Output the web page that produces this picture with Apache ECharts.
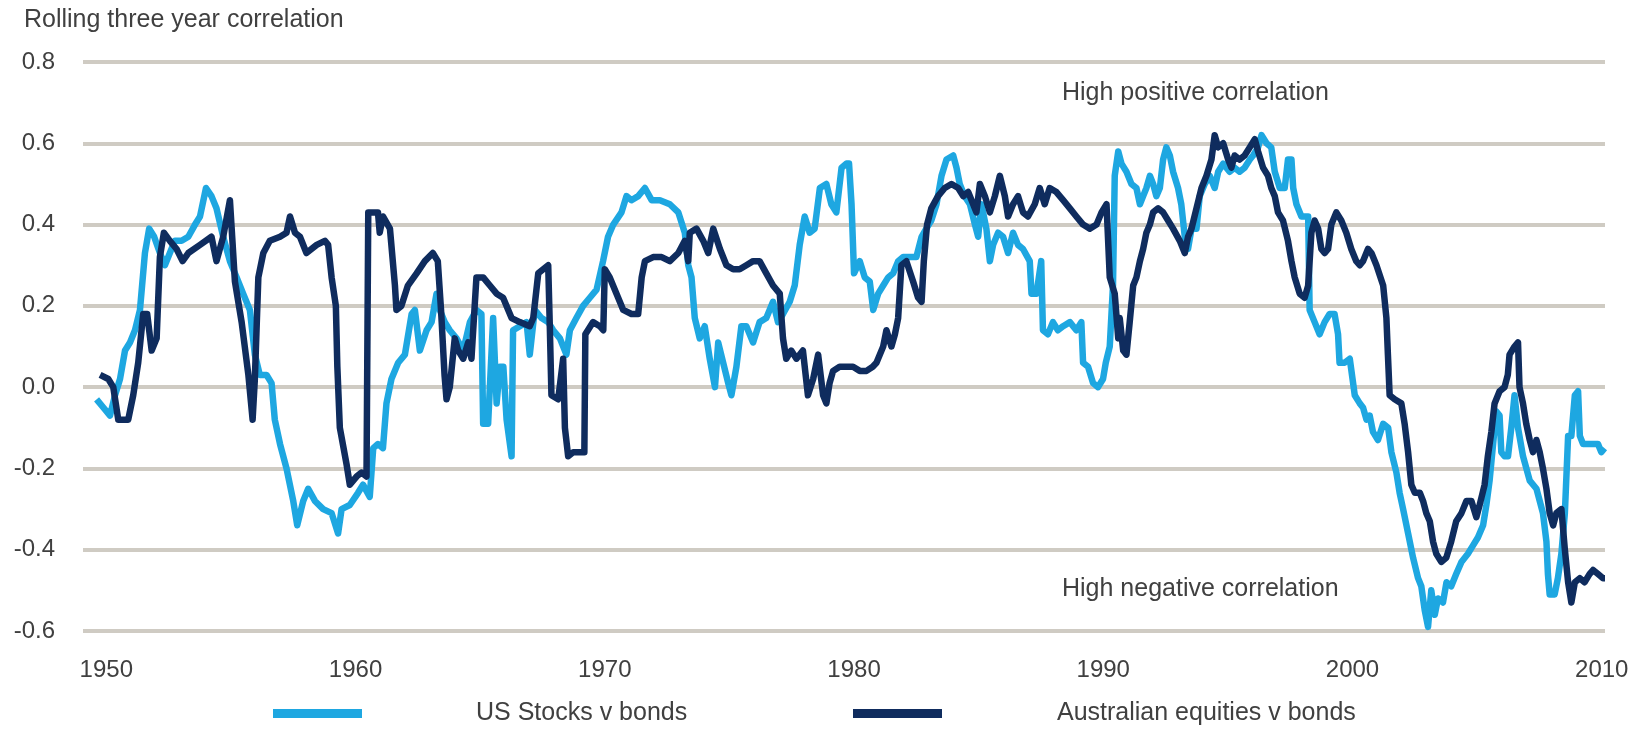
<!DOCTYPE html>
<html>
<head>
<meta charset="utf-8">
<title>Rolling three year correlation</title>
<script src="https://cdn.jsdelivr.net/npm/echarts@6/dist/echarts.min.js"></script>
<style>
  html, body { margin: 0; padding: 0; background: #ffffff; }
  #chart { width: 1639px; height: 729px; }
</style>
</head>
<body>
<div id="chart"></div>
<script>
// Series labels
const seriesNames = ['US Stocks v bonds', 'Australian equities v bonds'];

// Year labels along the bottom axis
const yearTicks = [1950, 1960, 1970, 1980, 1990, 2000, 2010];

// Correlation axis range
const corrMin = -0.6;
const corrMax = 0.8;
const corrStep = 0.2;

// Rolling three-year correlation, US stocks vs bonds: [year, correlation]
const usStocksBonds = [
  [1949.61,-0.03],[1949.88,-0.05],[1950.15,-0.07],[1950.35,-0.02],[1950.55,0.02],[1950.75,0.09],
  [1950.95,0.11],[1951.15,0.14],[1951.35,0.19],[1951.55,0.33],[1951.72,0.39],[1951.92,0.37],
  [1952.15,0.33],[1952.35,0.30],[1952.55,0.33],[1952.75,0.36],[1953.02,0.36],[1953.29,0.37],
  [1953.56,0.40],[1953.76,0.42],[1954.00,0.49],[1954.22,0.47],[1954.42,0.44],[1954.69,0.37],
  [1954.96,0.31],[1955.23,0.27],[1955.49,0.23],[1955.76,0.19],[1955.96,0.08],[1956.16,0.03],
  [1956.43,0.03],[1956.63,0.01],[1956.76,-0.08],[1956.97,-0.14],[1957.23,-0.20],[1957.50,-0.28],
  [1957.66,-0.34],[1957.90,-0.28],[1958.10,-0.25],[1958.37,-0.28],[1958.70,-0.30],[1959.04,-0.31],
  [1959.30,-0.36],[1959.44,-0.30],[1959.77,-0.29],[1960.10,-0.26],[1960.30,-0.24],[1960.57,-0.27],
  [1960.71,-0.15],[1960.90,-0.14],[1961.10,-0.15],[1961.24,-0.04],[1961.44,0.02],[1961.71,0.06],
  [1961.98,0.08],[1962.25,0.18],[1962.38,0.19],[1962.58,0.09],[1962.85,0.14],[1963.05,0.16],
  [1963.25,0.23],[1963.38,0.19],[1963.58,0.16],[1963.78,0.14],[1964.05,0.12],[1964.32,0.09],
  [1964.59,0.16],[1964.85,0.19],[1965.05,0.18],[1965.12,-0.09],[1965.32,-0.09],[1965.52,0.17],
  [1965.66,-0.04],[1965.79,0.05],[1965.93,0.05],[1966.06,-0.08],[1966.26,-0.17],[1966.32,0.14],
  [1966.59,0.15],[1966.86,0.16],[1966.99,0.08],[1967.19,0.19],[1967.46,0.17],[1967.73,0.16],
  [1967.93,0.14],[1968.20,0.12],[1968.46,0.08],[1968.60,0.14],[1968.86,0.17],[1969.13,0.20],
  [1969.40,0.22],[1969.67,0.24],[1969.93,0.31],[1970.13,0.37],[1970.34,0.40],[1970.67,0.43],
  [1970.87,0.47],[1971.07,0.46],[1971.34,0.47],[1971.61,0.49],[1971.88,0.46],[1972.21,0.46],
  [1972.61,0.45],[1972.95,0.43],[1973.21,0.38],[1973.35,0.30],[1973.48,0.27],[1973.61,0.17],
  [1973.81,0.12],[1974.01,0.15],[1974.21,0.07],[1974.42,0.00],[1974.55,0.11],[1974.75,0.06],
  [1974.95,0.01],[1975.08,-0.02],[1975.28,0.05],[1975.48,0.15],[1975.68,0.15],[1975.95,0.11],
  [1976.21,0.16],[1976.48,0.17],[1976.75,0.21],[1976.95,0.16],[1977.15,0.18],[1977.42,0.21],
  [1977.62,0.25],[1977.82,0.35],[1978.02,0.42],[1978.22,0.38],[1978.42,0.39],[1978.63,0.49],
  [1978.89,0.50],[1979.09,0.45],[1979.29,0.43],[1979.50,0.54],[1979.70,0.55],[1979.80,0.55],
  [1979.90,0.45],[1980.00,0.28],[1980.23,0.31],[1980.43,0.27],[1980.63,0.26],[1980.77,0.19],
  [1980.97,0.23],[1981.17,0.25],[1981.37,0.27],[1981.57,0.28],[1981.77,0.31],[1981.97,0.32],
  [1982.24,0.32],[1982.50,0.32],[1982.71,0.37],[1982.90,0.39],[1983.10,0.41],[1983.31,0.45],
  [1983.51,0.52],[1983.71,0.56],[1983.98,0.57],[1984.11,0.54],[1984.24,0.50],[1984.44,0.47],
  [1984.65,0.45],[1984.85,0.40],[1984.98,0.37],[1985.11,0.45],[1985.31,0.39],[1985.45,0.31],
  [1985.58,0.35],[1985.78,0.38],[1985.98,0.37],[1986.18,0.33],[1986.38,0.38],[1986.58,0.35],
  [1986.78,0.34],[1987.05,0.31],[1987.12,0.23],[1987.32,0.23],[1987.51,0.31],[1987.58,0.14],
  [1987.78,0.13],[1987.98,0.16],[1988.18,0.14],[1988.39,0.15],[1988.66,0.16],[1988.92,0.14],
  [1989.12,0.16],[1989.19,0.06],[1989.39,0.05],[1989.59,0.01],[1989.79,0.00],[1989.99,0.02],
  [1990.10,0.06],[1990.26,0.10],[1990.39,0.25],[1990.46,0.52],[1990.60,0.58],[1990.73,0.55],
  [1990.93,0.53],[1991.13,0.50],[1991.33,0.49],[1991.47,0.45],[1991.60,0.47],[1991.73,0.49],
  [1991.87,0.52],[1992.00,0.50],[1992.13,0.47],[1992.27,0.49],[1992.40,0.56],[1992.53,0.59],
  [1992.67,0.57],[1992.80,0.53],[1993.00,0.49],[1993.13,0.45],[1993.27,0.37],[1993.40,0.34],
  [1993.54,0.39],[1993.74,0.39],[1993.87,0.47],[1994.07,0.50],[1994.27,0.52],[1994.47,0.49],
  [1994.61,0.53],[1994.81,0.55],[1995.07,0.53],[1995.27,0.54],[1995.47,0.53],[1995.67,0.54],
  [1995.88,0.56],[1996.01,0.57],[1996.21,0.59],[1996.35,0.62],[1996.55,0.60],[1996.74,0.59],
  [1996.88,0.53],[1997.08,0.49],[1997.28,0.49],[1997.41,0.56],[1997.55,0.56],[1997.62,0.49],
  [1997.75,0.45],[1997.95,0.42],[1998.08,0.42],[1998.22,0.42],[1998.28,0.19],[1998.48,0.16],
  [1998.68,0.13],[1998.88,0.16],[1999.08,0.18],[1999.28,0.18],[1999.42,0.13],[1999.48,0.06],
  [1999.68,0.06],[1999.89,0.07],[2000.09,-0.02],[2000.29,-0.04],[2000.42,-0.05],[2000.56,-0.08],
  [2000.69,-0.07],[2000.82,-0.11],[2001.02,-0.13],[2001.23,-0.09],[2001.43,-0.10],[2001.56,-0.16],
  [2001.76,-0.21],[2001.89,-0.26],[2002.03,-0.30],[2002.23,-0.36],[2002.43,-0.42],[2002.63,-0.47],
  [2002.76,-0.49],[2002.90,-0.55],[2003.03,-0.59],[2003.16,-0.50],[2003.30,-0.56],[2003.43,-0.52],
  [2003.63,-0.53],[2003.77,-0.48],[2003.96,-0.49],[2004.16,-0.46],[2004.37,-0.43],[2004.63,-0.41],
  [2004.83,-0.39],[2005.03,-0.37],[2005.24,-0.34],[2005.37,-0.29],[2005.50,-0.23],[2005.64,-0.14],
  [2005.77,-0.06],[2005.90,-0.07],[2005.97,-0.16],[2006.10,-0.17],[2006.24,-0.17],[2006.37,-0.10],
  [2006.50,-0.02],[2006.64,-0.10],[2006.84,-0.17],[2007.11,-0.23],[2007.38,-0.25],[2007.51,-0.28],
  [2007.64,-0.31],[2007.78,-0.38],[2007.84,-0.46],[2007.91,-0.51],[2008.11,-0.51],[2008.24,-0.47],
  [2008.38,-0.41],[2008.52,-0.31],[2008.65,-0.12],[2008.78,-0.12],[2008.92,-0.02],[2009.05,-0.01],
  [2009.12,-0.12],[2009.25,-0.14],[2009.45,-0.14],[2009.65,-0.14],[2009.85,-0.14],[2009.98,-0.16],
  [2010.11,-0.15]
];

// Rolling three-year correlation, Australian equities vs bonds: [year, correlation]
const ausEquitiesBonds = [
  [1949.75,0.03],[1950.08,0.02],[1950.28,0.00],[1950.48,-0.08],[1950.88,-0.08],[1951.08,-0.02],
  [1951.28,0.06],[1951.48,0.18],[1951.64,0.18],[1951.82,0.09],[1952.02,0.12],[1952.15,0.32],
  [1952.31,0.38],[1952.55,0.36],[1952.82,0.34],[1953.06,0.31],[1953.29,0.33],[1953.76,0.35],
  [1954.22,0.37],[1954.42,0.31],[1954.69,0.37],[1954.96,0.46],[1955.16,0.26],[1955.43,0.16],
  [1955.70,0.03],[1955.87,-0.08],[1955.96,0.02],[1956.10,0.27],[1956.30,0.33],[1956.56,0.36],
  [1956.97,0.37],[1957.23,0.38],[1957.37,0.42],[1957.57,0.38],[1957.77,0.37],[1958.03,0.33],
  [1958.44,0.35],[1958.77,0.36],[1958.90,0.35],[1959.04,0.27],[1959.21,0.20],[1959.27,0.05],
  [1959.37,-0.10],[1959.64,-0.19],[1959.77,-0.24],[1960.04,-0.22],[1960.24,-0.21],[1960.44,-0.22],
  [1960.51,0.43],[1960.90,0.43],[1960.97,0.38],[1961.10,0.42],[1961.38,0.39],[1961.58,0.25],
  [1961.64,0.19],[1961.84,0.20],[1962.10,0.25],[1962.45,0.28],[1962.78,0.31],[1963.10,0.33],
  [1963.30,0.31],[1963.43,0.19],[1963.57,0.03],[1963.65,-0.03],[1963.78,0.00],[1963.98,0.12],
  [1964.12,0.09],[1964.32,0.07],[1964.52,0.11],[1964.65,0.07],[1964.85,0.27],[1965.12,0.27],
  [1965.39,0.25],[1965.66,0.23],[1965.92,0.22],[1966.26,0.17],[1966.59,0.16],[1966.99,0.15],
  [1967.13,0.17],[1967.33,0.28],[1967.53,0.29],[1967.73,0.30],[1967.79,0.16],[1967.86,-0.02],
  [1968.13,-0.03],[1968.33,0.07],[1968.40,-0.10],[1968.53,-0.17],[1968.73,-0.16],[1969.00,-0.16],
  [1969.18,-0.16],[1969.22,0.13],[1969.53,0.16],[1969.80,0.15],[1969.94,0.14],[1970.00,0.29],
  [1970.20,0.27],[1970.47,0.23],[1970.74,0.19],[1971.07,0.18],[1971.34,0.18],[1971.48,0.27],
  [1971.61,0.31],[1971.94,0.32],[1972.28,0.32],[1972.61,0.31],[1972.95,0.33],[1973.21,0.36],
  [1973.35,0.31],[1973.41,0.38],[1973.68,0.39],[1973.95,0.36],[1974.15,0.33],[1974.35,0.39],
  [1974.62,0.34],[1974.88,0.30],[1975.15,0.29],[1975.41,0.29],[1975.68,0.30],[1975.95,0.31],
  [1976.21,0.31],[1976.48,0.28],[1976.75,0.25],[1977.02,0.23],[1977.15,0.12],[1977.28,0.07],
  [1977.48,0.09],[1977.69,0.07],[1977.95,0.09],[1978.15,-0.02],[1978.36,0.02],[1978.56,0.08],
  [1978.76,-0.02],[1978.89,-0.04],[1979.02,0.01],[1979.16,0.04],[1979.42,0.05],[1979.69,0.05],
  [1979.96,0.05],[1980.23,0.04],[1980.50,0.04],[1980.75,0.05],[1980.90,0.06],[1981.17,0.10],
  [1981.30,0.14],[1981.50,0.10],[1981.64,0.13],[1981.77,0.17],[1981.90,0.30],[1982.10,0.31],
  [1982.37,0.26],[1982.57,0.22],[1982.71,0.21],[1982.80,0.31],[1982.93,0.40],[1983.10,0.44],
  [1983.37,0.47],[1983.64,0.49],[1983.91,0.50],[1984.18,0.49],[1984.38,0.47],[1984.58,0.48],
  [1984.78,0.45],[1984.91,0.43],[1985.05,0.50],[1985.25,0.47],[1985.45,0.43],[1985.65,0.47],
  [1985.85,0.52],[1986.05,0.47],[1986.18,0.42],[1986.38,0.45],[1986.58,0.47],[1986.78,0.43],
  [1986.98,0.42],[1987.25,0.45],[1987.45,0.49],[1987.65,0.45],[1987.85,0.49],[1988.12,0.48],
  [1988.39,0.46],[1988.66,0.44],[1988.92,0.42],[1989.19,0.40],[1989.46,0.39],[1989.73,0.40],
  [1989.93,0.43],[1990.13,0.45],[1990.26,0.27],[1990.46,0.23],[1990.60,0.12],[1990.66,0.17],
  [1990.80,0.09],[1990.93,0.08],[1991.06,0.16],[1991.20,0.25],[1991.33,0.27],[1991.47,0.31],
  [1991.60,0.34],[1991.73,0.38],[1991.87,0.40],[1992.00,0.43],[1992.20,0.44],[1992.40,0.43],
  [1992.60,0.41],[1992.80,0.39],[1993.07,0.36],[1993.27,0.33],[1993.40,0.37],[1993.54,0.39],
  [1993.74,0.44],[1993.94,0.49],[1994.14,0.52],[1994.34,0.56],[1994.47,0.62],[1994.61,0.59],
  [1994.81,0.60],[1995.01,0.56],[1995.14,0.54],[1995.27,0.57],[1995.47,0.56],[1995.67,0.57],
  [1995.88,0.59],[1996.08,0.61],[1996.21,0.58],[1996.41,0.54],[1996.61,0.52],[1996.74,0.49],
  [1996.88,0.47],[1997.01,0.43],[1997.21,0.41],[1997.41,0.36],[1997.55,0.31],[1997.68,0.27],
  [1997.88,0.23],[1998.08,0.22],[1998.22,0.25],[1998.35,0.38],[1998.48,0.41],[1998.62,0.39],
  [1998.75,0.34],[1998.88,0.33],[1999.02,0.34],[1999.15,0.40],[1999.35,0.43],[1999.55,0.41],
  [1999.75,0.38],[1999.95,0.34],[2000.15,0.31],[2000.29,0.30],[2000.42,0.31],[2000.62,0.34],
  [2000.76,0.33],[2000.96,0.30],[2001.23,0.25],[2001.36,0.17],[2001.42,0.08],[2001.49,-0.02],
  [2001.69,-0.03],[2001.96,-0.04],[2002.09,-0.09],[2002.23,-0.16],[2002.36,-0.24],[2002.50,-0.26],
  [2002.70,-0.26],[2002.83,-0.28],[2002.96,-0.31],[2003.10,-0.33],[2003.23,-0.38],[2003.36,-0.41],
  [2003.56,-0.43],[2003.76,-0.42],[2003.96,-0.38],[2004.16,-0.33],[2004.37,-0.31],[2004.57,-0.28],
  [2004.77,-0.28],[2004.97,-0.32],[2005.10,-0.29],[2005.30,-0.24],[2005.43,-0.17],[2005.57,-0.11],
  [2005.70,-0.04],[2005.90,-0.01],[2006.10,0.00],[2006.23,0.03],[2006.30,0.08],[2006.50,0.10],
  [2006.64,0.11],[2006.70,0.00],[2006.84,-0.04],[2006.97,-0.09],[2007.11,-0.13],[2007.24,-0.16],
  [2007.38,-0.13],[2007.51,-0.16],[2007.64,-0.20],[2007.78,-0.25],[2007.91,-0.31],[2008.05,-0.34],
  [2008.18,-0.31],[2008.38,-0.30],[2008.52,-0.40],[2008.65,-0.48],[2008.78,-0.53],[2008.92,-0.48],
  [2009.12,-0.47],[2009.31,-0.48],[2009.51,-0.46],[2009.65,-0.45],[2009.85,-0.46],[2010.05,-0.47],
  [2010.13,-0.47]
];

const textColor = '#404040';
const fontFamily = '"Liberation Sans", Arial, Helvetica, sans-serif';
const usColor = '#1ea7e1';
const ausColor = '#0f2c5e';

const chart = echarts.init(document.getElementById('chart'), null, { renderer: 'canvas' });

chart.setOption({
  animation: false,
  backgroundColor: '#ffffff',
  textStyle: { fontFamily: fontFamily },
  title: {
    text: 'Rolling three year correlation',
    left: 24,
    top: 8,
    padding: 0,
    textStyle: { fontFamily: fontFamily, fontSize: 25, fontWeight: 'normal', color: textColor }
  },
  grid: { left: 83, right: 34, top: 62, bottom: 98, containLabel: false },
  xAxis: {
    type: 'value',
    min: 1949.065,
    max: 2010.13,
    axisLine: { show: false },
    axisTick: { show: false },
    splitLine: { show: false },
    axisLabel: {
      customValues: yearTicks,
      margin: 27,
      fontSize: 24,
      color: textColor,
      fontFamily: fontFamily,
      formatter: v => String(Math.round(v))
    }
  },
  yAxis: {
    type: 'value',
    min: corrMin,
    max: corrMax,
    interval: corrStep,
    axisLine: { show: false },
    axisTick: { show: false },
    axisLabel: {
      margin: 28,
      fontSize: 24,
      color: textColor,
      fontFamily: fontFamily,
      formatter: v => v.toFixed(1)
    },
    splitLine: { show: true, lineStyle: { color: '#cfcbc3', width: 4 } }
  },
  legend: [
    {
      data: [seriesNames[0]],
      left: 268,
      top: 696,
      icon: 'rect',
      itemWidth: 89,
      itemHeight: 9,
      textStyle: { fontSize: 25, color: textColor, fontFamily: fontFamily, padding: [0, 0, 0, 109] }
    },
    {
      data: [seriesNames[1]],
      left: 848,
      top: 696,
      icon: 'rect',
      itemWidth: 89,
      itemHeight: 9,
      textStyle: { fontSize: 25, color: textColor, fontFamily: fontFamily, padding: [0, 0, 0, 110] }
    }
  ],
  graphic: [
    {
      type: 'text',
      left: 1062,
      top: 81,
      style: { text: 'High positive correlation', fontSize: 25, fontFamily: fontFamily, fill: textColor }
    },
    {
      type: 'text',
      left: 1062,
      top: 577,
      style: { text: 'High negative correlation', fontSize: 25, fontFamily: fontFamily, fill: textColor }
    }
  ],
  series: [
    {
      name: seriesNames[0],
      type: 'line',
      data: usStocksBonds,
      showSymbol: false,
      color: usColor,
      lineStyle: { color: usColor, width: 6.5, join: 'round' },
      z: 2
    },
    {
      name: seriesNames[1],
      type: 'line',
      data: ausEquitiesBonds,
      showSymbol: false,
      color: ausColor,
      lineStyle: { color: ausColor, width: 6.5, join: 'round' },
      z: 3
    }
  ]
});
</script>
</body>
</html>
